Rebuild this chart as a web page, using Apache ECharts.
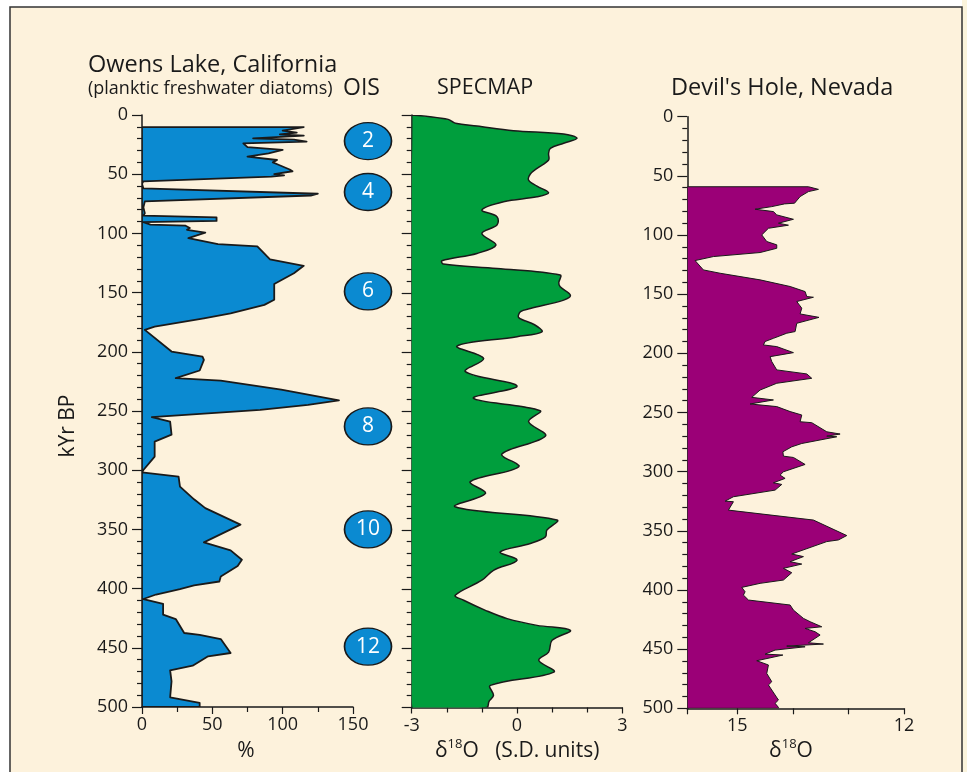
<!DOCTYPE html>
<html>
<head>
<meta charset="utf-8">
<title>Owens Lake, SPECMAP, Devil's Hole</title>
<script src="https://cdn.jsdelivr.net/npm/echarts@6.0.0/dist/echarts.min.js"></script>
<style>
  html, body { margin: 0; padding: 0; background: #fff; }
  #main { width: 967px; height: 772px; }
</style>
</head>
<body>
<div id="main"></div>
<script>
// Owens Lake, planktic freshwater diatoms (%) against age (kyr BP)
var owensKyr = [10.2, 13.2, 14.9, 16.3, 17.4, 19.7, 20.8, 22.5, 23.9, 27.2, 29.5, 32.4, 35.2, 38, 40, 42, 46, 47.5, 50, 51, 52,
  56, 58, 62, 66.5, 68, 73, 78, 83, 85, 86.5, 89.5, 90.5, 92.6, 93.5, 95.4, 97, 99.3, 104, 109, 111, 122, 127.4, 133.6,
  142.7, 150.5, 156, 160.4, 167.5, 171.7, 178.7, 181.5, 199.8, 204, 206.8, 215.8, 222.3, 224.4, 232, 241, 244.8, 249,
  255.2, 258.9, 270, 275.9, 288.5, 299.8, 301.8, 305.5, 313.9, 324.6, 332, 346, 361, 367.7, 375.6, 381, 389.7, 394,
  397.3, 400.4, 405, 408.8, 412.8, 422, 425.7, 437.5, 439, 442.6, 454.4, 457.2, 465.1, 469, 478.3, 491.8, 496.6, 500];
var owensPct = [115, 100, 110, 98, 115, 79, 108, 117, 72, 75, 100, 90, 75, 96, 93, 97, 105, 107, 94, 101, 92,
  1, 0, 1, 125, 120, 2, 1, 2, 1, 53, 53, 1, 6, 31, 34, 32, 45, 33, 54, 82, 91, 115, 108,
  94, 94, 94, 87, 63, 44, 9, 2, 21, 43, 44, 41, 24, 56, 99, 140, 118, 84,
  7, 20, 21, 9, 9, 1, 0, 26, 27, 37, 45, 70, 44, 63, 71, 68, 56, 55,
  37, 27, 10, 1, 15, 15, 24, 30, 41, 56, 63, 47, 36, 20, 21, 20, 41, 41];

// SPECMAP stacked d18O (S.D. units)
var specmapKyr = [0, 1.4, 3.7, 5.5, 7, 9.3, 13.2, 16, 19.7, 23.9, 28.1, 32.4, 38, 45, 49.8, 54.9, 60, 65.6, 69, 73.2,
  80.2, 85.8, 92.9, 99.9, 109.7, 116.8, 123, 125.8, 129.5, 135.1, 141.6, 145, 152, 156.2, 163.3, 166, 171, 177, 183,
  187.1, 195, 205.4, 216.6, 228.7, 239.1, 249.5, 258.8, 270.9, 286.1, 296.8, 309.4, 319.3, 330.6, 341.8, 350.3, 356,
  361.6, 368.7, 375.7, 384.2, 392.6, 405.3, 409.5, 418, 425, 430.7, 434.9, 443.3, 453.2, 460.2, 470.1, 481.3, 489.8,
  495, 500];
var specmapVal = [-3, -2.48, -1.96, -1.85, -1.75, -1.14, -0.1, 1.33, 1.71, 1.33, 0.95, 0.9, 0.9, 0.57, 0.38, 0.33, 0.57, 0.9, 0.57, -0.38,
  -1.0, -0.57, -0.57, -1.0, -0.6, -1.14, -2.14, -2.1, -0.57, 1.23, 1.19, 1.23, 1.52, 1.33, 0.38, 0.1, 0.05, 0.5, 0.71,
  0.0, -1.71, -0.95, -1.47, 0.0, -1.24, 0.66, 0.33, 0.81, -0.43, 0.05, -1.33, -0.9, -1.76, 1.14, 0.85, 0.81,
  0.38, -0.48, 0.0, -0.67, -1.0, -1.76, -1.52, -0.9, -0.28, 0.57, 1.52, 1.0, 0.9, 0.62, 1.05, -0.76, -0.67,
  -0.8, -0.86];

// Devil's Hole, Nevada d18O (per mil)
var devilsKyr = [59.2, 61.4, 63.3, 67.5, 73.1, 73.7, 76, 78.2, 80.2, 83, 86.7, 90, 91.7, 94.3, 99.9, 105.5, 108.3, 111.2,
  114.8, 118.2, 121.6, 129.5, 132.3, 137.9, 143.5, 147.8, 152, 152.6, 156.2, 161.8, 166.7, 169.6, 174.6, 181.6, 183,
  187.3, 190, 192.9, 194.3, 199.4, 202.8, 207, 214, 217.4, 221.1, 225.3, 231, 237.2, 239.4, 242.8, 245, 249.2, 252.1,
  257.8, 258.6, 266.3, 268.2, 270, 270.5, 276.2, 279, 283.2, 286.9, 288, 293.9, 300.1, 302.9, 305.7, 309.4, 310.8,
  315.6, 321.2, 324.9, 325.4, 332.5, 340.9, 354, 357.7, 359.1, 369.6, 371.8, 376.1, 378.1, 381.7, 385.4, 391.6, 394.4,
  397.8, 401.5, 404.3, 408.5, 412.7, 417, 424, 426.8, 431.1, 432.5, 435.3, 438.1, 444.6, 445.7, 447.4, 448, 450.8,
  454.2, 455, 459.8, 463.4, 470.5, 477.5, 480.3, 493, 495.8, 499.2, 500];
var devilsVal = [13.72, 13.54, 13.72, 13.87, 13.97, 14.15, 14.38, 14.68, 14.35, 14.29, 13.99, 14.26, 14.08, 14.44, 14.56, 14.47, 14.29, 14.29,
  14.59, 15.43, 15.76, 15.61, 15.31, 14.59, 14.05, 13.78, 13.75, 13.63, 13.93, 13.84, 13.87, 13.53, 13.93, 13.96, 14.11,
  14.35, 14.5, 14.53, 14.29, 13.99, 14.41, 14.38, 14.29, 13.75, 13.66, 14.29, 14.59, 14.74, 14.35, 14.77, 14.29, 14.05, 13.84,
  13.87, 13.66, 13.39, 13.15, 13.39, 13.21, 13.84, 14.02, 14.18, 14.17, 13.99, 13.78, 14.17, 14.23, 14.14, 14.35, 14.2,
  14.32, 15.07, 15.22, 15.07, 15.16, 13.63, 13.03, 13.18, 13.39, 14.02, 13.81, 14.05, 13.84, 14.17, 14.02, 14.17, 14.59,
  14.92, 14.86, 14.89, 14.8, 14.05, 13.99, 13.81, 13.69, 13.48, 13.78, 13.6, 13.51, 13.72, 13.45, 14.11, 13.78, 14.32,
  14.5, 14.18, 14.65, 14.44, 14.47, 14.38, 14.44, 14.26, 14.32, 14.26, 14.26];

// oxygen isotope stages
var oisLabels = ['2', '4', '6', '8', '10', '12'];
var oisKyr = [22, 65, 149, 263, 350, 449];

var FONT = 'Open Sans';
var INK = '#1a1a1a';

function pairs(xs, ys) {
  var out = [];
  for (var i = 0; i < xs.length; i++) out.push([xs[i], ys[i]]);
  return out;
}

// fills the profile from the axis edge (base) to the curve
function fillProfile(base, color, lineWidth, smooth) {
  return function (params, api) {
    if (params.dataIndexInside !== 0) return;
    var n = params.dataInsideLength;
    var pts = [api.coord([base, api.value(1, 0)])];
    for (var i = 0; i < n; i++) {
      pts.push(api.coord([api.value(0, i), api.value(1, i)]));
    }
    pts.push(api.coord([base, api.value(1, n - 1)]));
    var cs = params.coordSys;
    return {
      type: 'polygon',
      shape: { points: pts, smooth: smooth },
      style: { fill: color, stroke: INK, lineWidth: lineWidth, lineJoin: 'round' },
      clipPath: { type: 'rect', shape: { x: cs.x, y: cs.y, width: cs.width, height: cs.height } }
    };
  };
}

var tickStyle = { color: INK, width: 1.2 };

function ageAxis(idx, showLabel) {
  return {
    type: 'value', gridIndex: idx, min: 0, max: 500, interval: 50, inverse: true,
    axisLine: { show: true, onZero: false, lineStyle: { color: INK, width: 1.5 } },
    axisTick: { show: true, length: 10, lineStyle: tickStyle },
    minorTick: { show: true, splitNumber: 5, length: 5, lineStyle: tickStyle },
    axisLabel: { show: showLabel, fontSize: 18, color: INK, margin: 14, fontFamily: FONT },
    splitLine: { show: false }
  };
}

var myChart = echarts.init(document.getElementById('main'));
myChart.setOption({
  animation: false,
  backgroundColor: '#ffffff',
  textStyle: { fontFamily: FONT, color: INK },
  grid: [
    { left: 142, top: 115, width: 211, height: 592, outerBoundsMode: 'none' },
    { left: 411.7, top: 115, width: 210.6, height: 592.5, outerBoundsMode: 'none' },
    { left: 687.3, top: 116.7, width: 216.7, height: 591.6, outerBoundsMode: 'none' },
    { left: 340, top: 115, width: 56, height: 592, outerBoundsMode: 'none' }
  ],
  xAxis: [
    {
      type: 'value', gridIndex: 0, min: 0, max: 150, interval: 50, position: 'bottom',
      axisLine: { onZero: false, lineStyle: { color: INK, width: 1.5 } },
      axisTick: { length: 7, lineStyle: tickStyle },
      minorTick: { show: true, splitNumber: 2, length: 5, lineStyle: tickStyle },
      axisLabel: { fontSize: 18, color: INK, margin: 9 },
      splitLine: { show: false }
    },
    {
      type: 'value', gridIndex: 1, min: -3, max: 3, interval: 3, position: 'bottom',
      axisLine: { onZero: false, lineStyle: { color: INK, width: 1.5 } },
      axisTick: { length: 6, lineStyle: tickStyle },
      minorTick: { show: true, splitNumber: 3, length: 5, lineStyle: tickStyle },
      axisLabel: { fontSize: 18, color: INK, margin: 9 },
      splitLine: { show: false }
    },
    {
      type: 'value', gridIndex: 2, min: 12, max: 15.9, interval: 1, inverse: true, position: 'bottom',
      axisLine: { onZero: false, lineStyle: { color: INK, width: 1.5 } },
      axisTick: { length: 6, lineStyle: tickStyle },
      axisLabel: {
        fontSize: 18, color: INK, margin: 9,
        formatter: function (v) { return (v === 15 || v === 12) ? String(v) : ''; }
      },
      splitLine: { show: false }
    },
    { type: 'value', gridIndex: 3, min: 0, max: 1, show: false }
  ],
  yAxis: [
    ageAxis(0, true),
    ageAxis(1, false),
    ageAxis(2, true),
    { type: 'value', gridIndex: 3, min: 0, max: 500, inverse: true, show: false }
  ],
  graphic: [
    { type: 'rect', z: -10, shape: { x: 962, y: 0, width: 5, height: 772 }, style: { fill: '#fbf4dc' } },
    { type: 'rect', z: -10, shape: { x: 10, y: 7, width: 952, height: 780 },
      style: { fill: '#fdf2dc', stroke: '#333333', lineWidth: 1.5 } },
    { type: 'text', x: 88, y: 65, style: { text: 'Owens Lake, California', font: '23.5px "Open Sans"', fill: INK, verticalAlign: 'middle' } },
    { type: 'text', x: 88, y: 89, style: { text: '(planktic freshwater diatoms)', font: '18px "Open Sans"', fill: INK, verticalAlign: 'middle' } },
    { type: 'text', x: 343, y: 88, style: { text: 'OIS', font: '23px "Open Sans"', fill: INK, verticalAlign: 'middle' } },
    { type: 'text', x: 437, y: 88, style: { text: 'SPECMAP', font: '21.5px "Open Sans"', fill: INK, verticalAlign: 'middle' } },
    { type: 'text', x: 671, y: 88, style: { text: "Devil's Hole, Nevada", font: '23.5px "Open Sans"', fill: INK, verticalAlign: 'middle' } },
    { type: 'text', x: 68, y: 426, rotation: Math.PI / 2,
      style: { text: 'kYr BP', font: '21px "Open Sans"', fill: INK, align: 'center', verticalAlign: 'middle' } },
    { type: 'text', x: 246, y: 751, style: { text: '%', font: '21px "Open Sans"', fill: INK, align: 'center', verticalAlign: 'middle' } },
    { type: 'text', x: 435, y: 751,
      style: {
        text: '{a|δ}{b|18}{a|O   (S.D. units)}', fill: INK, verticalAlign: 'middle', font: '21px "Open Sans"',
        rich: { a: { fontSize: 21, lineHeight: 26, fontFamily: FONT }, b: { fontSize: 13, lineHeight: 16, verticalAlign: 'top', fontFamily: FONT } }
      } },
    { type: 'text', x: 791, y: 751,
      style: {
        text: '{a|δ}{b|18}{a|O}', fill: INK, align: 'center', verticalAlign: 'middle', font: '21px "Open Sans"',
        rich: { a: { fontSize: 21, lineHeight: 26, fontFamily: FONT }, b: { fontSize: 13, lineHeight: 16, verticalAlign: 'top', fontFamily: FONT } }
      } }
  ],
  series: [
    {
      name: 'Owens Lake', type: 'custom', xAxisIndex: 0, yAxisIndex: 0,
      renderItem: fillProfile(0, '#0b8ad1', 1.8, 0),
      data: pairs(owensPct, owensKyr), z: 1
    },
    {
      name: 'SPECMAP', type: 'custom', xAxisIndex: 1, yAxisIndex: 1,
      renderItem: fillProfile(-3, '#009e3d', 1.5, 0.35),
      data: pairs(specmapVal, specmapKyr), z: 1
    },
    {
      name: "Devil's Hole", type: 'custom', xAxisIndex: 2, yAxisIndex: 2,
      renderItem: fillProfile(15.9, '#9b0077', 1, 0),
      data: pairs(devilsVal, devilsKyr), z: 1
    },
    {
      name: 'OIS', type: 'scatter', xAxisIndex: 3, yAxisIndex: 3,
      symbol: 'circle', symbolSize: [47, 37],
      itemStyle: { color: '#0b8ad1', borderColor: INK, borderWidth: 1.5, opacity: 1 },
      label: { show: true, position: 'inside', color: '#ffffff', fontSize: 21, fontFamily: FONT, formatter: '{b}' },
      data: oisKyr.map(function (k, i) { return { name: oisLabels[i], value: [0.5, k] }; })
    }
  ]
});
</script>
</body>
</html>
